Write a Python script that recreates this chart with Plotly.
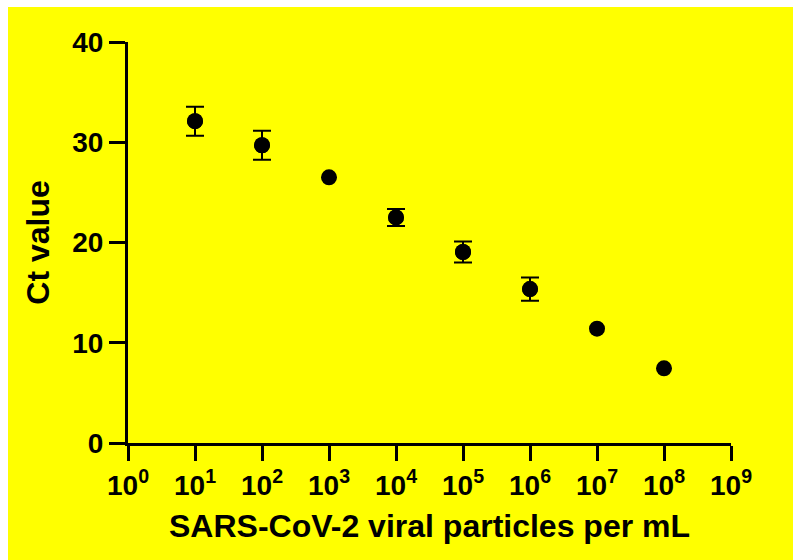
import plotly.graph_objects as go

# Data
exponents = [1, 2, 3, 4, 5, 6, 7, 8]
particles = [10 ** e for e in exponents]
ct_mean = [32.1, 29.7, 26.5, 22.5, 19.05, 15.35, 11.4, 7.45]
# SD; None where the bar is hidden behind the marker in the reference
ct_err = [1.45, 1.45, None, 0.85, 1.05, 1.15, None, None]

xtick_exps = [0, 1, 2, 3, 4, 5, 6, 7, 8, 9]
xtick_vals = [10 ** e for e in xtick_exps]
xtick_text = ["10<sup>%d</sup>" % e for e in xtick_exps]
ytick_vals = [0, 10, 20, 30, 40]

W, H = 793, 560
ML, MR, MT, MB = 128, 62, 42, 117
PW = W - ML - MR
PH = H - MT - MB

FONT = "Liberation Sans, Arial, sans-serif"

with_err = [i for i, e in enumerate(ct_err) if e is not None]

fig = go.Figure()
# error bars only for points that have a visible SD
fig.add_trace(go.Scatter(
    x=[particles[i] for i in with_err], y=[ct_mean[i] for i in with_err],
    mode="markers", marker=dict(size=16, color="black"),
    error_y=dict(type="data", array=[ct_err[i] for i in with_err], visible=True,
                 color="black", thickness=2, width=9),
    showlegend=False, cliponaxis=False, hoverinfo="skip",
))
# all points
fig.add_trace(go.Scatter(
    x=particles, y=ct_mean, mode="markers",
    marker=dict(size=16, color="black"),
    showlegend=False, cliponaxis=False,
))

# white strips on top/left of the page (the reference's yellow panel starts a bit inside)
fig.add_shape(type="rect", xref="paper", yref="paper", layer="below",
              x0=-ML / PW, x1=(8 - ML) / PW, y0=-MB / PH, y1=1 + MT / PH,
              fillcolor="white", line=dict(width=0))
fig.add_shape(type="rect", xref="paper", yref="paper", layer="below",
              x0=-ML / PW, x1=1 + MR / PW, y0=1 + (MT - 7) / PH, y1=1 + MT / PH,
              fillcolor="white", line=dict(width=0))

fig.update_layout(
    width=W, height=H,
    margin=dict(l=ML, r=MR, t=MT, b=MB),
    paper_bgcolor="#FFFF00", plot_bgcolor="#FFFF00",
    font=dict(family=FONT, color="black"),
    xaxis=dict(
        type="log", range=[0, 9],
        tickmode="array", tickvals=xtick_vals, ticktext=xtick_text,
        ticks="outside", ticklen=15, tickwidth=3, tickcolor="black",
        showline=True, linewidth=3, linecolor="black",
        showgrid=False, zeroline=False,
        tickfont=dict(family=FONT, size=28, color="black", weight="bold"),
        title=dict(text="<b>SARS-CoV-2 viral particles per mL</b>",
                   font=dict(family=FONT, size=32, color="black"), standoff=16),
    ),
    yaxis=dict(
        range=[0, 40],
        tickmode="array", tickvals=ytick_vals,
        ticks="outside", ticklen=16, tickwidth=3, tickcolor="black",
        showline=True, linewidth=3, linecolor="black",
        showgrid=False, zeroline=False,
        tickfont=dict(family=FONT, size=28, color="black", weight="bold"),
        title=dict(text="<b>Ct value</b>",
                   font=dict(family=FONT, size=32, color="black"), standoff=14),
    ),
)

fig.write_html("out.html")
